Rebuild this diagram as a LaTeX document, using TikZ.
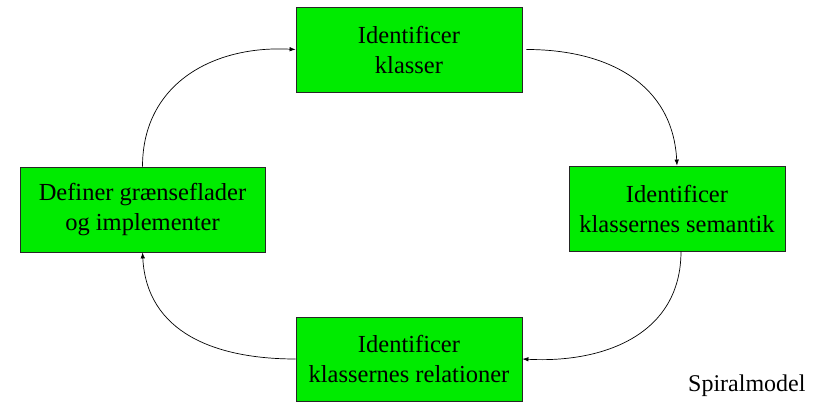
\documentclass[tikz,border=0pt]{standalone}
\usepackage{fontspec}
\setmainfont{Liberation Serif}
\usetikzlibrary{arrows.meta}
\definecolor{boxgreen}{RGB}{0,235,0}
\tikzset{
  stepbox/.style={draw=black!85, line width=0.8pt, fill=boxgreen, rectangle,
    align=center, inner sep=0pt, font=\fontsize{24.5}{30}\selectfont},
  flow/.style={draw=black, line width=0.7pt, -{Latex[length=6pt,width=4.5pt]}, looseness=1.1},
}
\begin{document}
\begin{tikzpicture}[x=1pt,y=-1pt]
\useasboundingbox (0,0) rectangle (823,403);
\node[stepbox, minimum width=226pt, minimum height=85pt] (top) at (409,49.5) {Identificer\\klasser};
\node[stepbox, minimum width=216pt, minimum height=85pt] (right) at (677,208.5) {Identificer\\klassernes semantik};
\node[stepbox, minimum width=245pt, minimum height=85pt] (left) at (142.5,209.5) {Definer grænseflader\\og implementer};
\node[stepbox, minimum width=226pt, minimum height=84pt] (bottom) at (409,359) {Identificer\\klassernes relationer};
\node[anchor=base west, font=\fontsize{24}{28}\selectfont, inner sep=0pt] (title) at (688,392) {Spiralmodel};
\draw[flow] (left.north) to[out=90,in=177] (top.west);
\draw[flow] ([xshift=4pt]top.east) to[out=0,in=93] (right.north);
\draw[flow] ([xshift=4pt]right.south) to[out=-90,in=-3] (bottom.east);
\draw[flow] (bottom.west) to[out=180,in=-87] (left.south);
\end{tikzpicture}
\end{document}
